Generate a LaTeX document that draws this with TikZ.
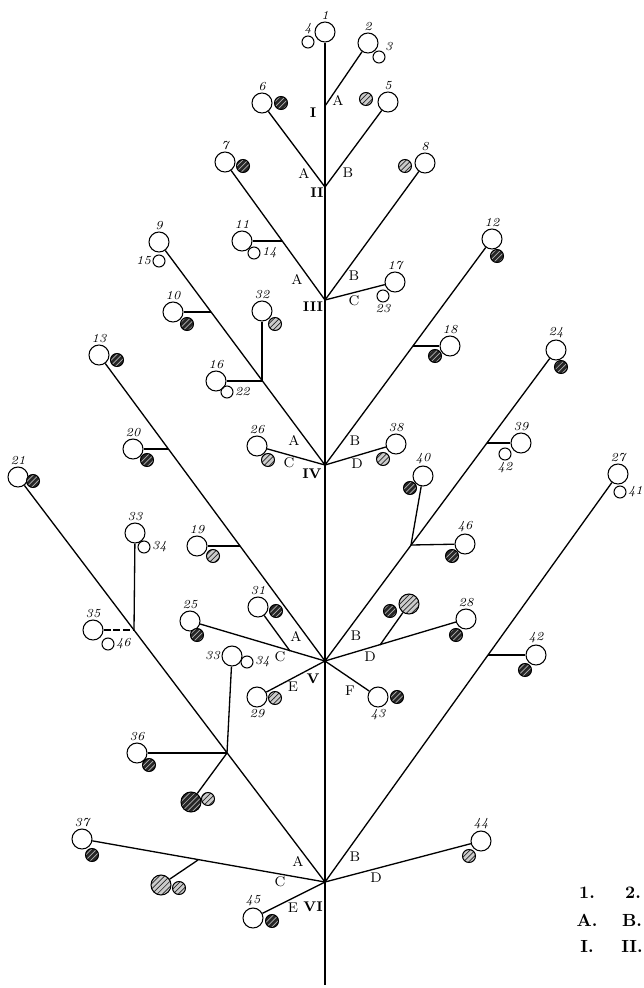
\documentclass[tikz,border=0pt]{standalone}
\usepackage{tikz}
\usetikzlibrary{patterns, positioning}

\begin{document}
\begin{tikzpicture}[
    x=0.02cm, y=-0.02cm,
    every path/.style={line width=0.75pt}
]
    \tikzset{
        circulo/.style={circle, draw, line width=0.6pt, inner sep=0pt, minimum size=0.4cm},
        chico/.style={circulo, minimum size=0.24cm},
        mancha/.style={circulo, minimum size=0.26cm, preaction={fill=black!85}, pattern=north east lines, pattern color=black!30},
        rayada/.style={circulo, minimum size=0.26cm, preaction={fill=black!20}, pattern=north east lines, pattern color=black!85},
        grande/.style={rayada, minimum size=0.4cm},
        granmancha/.style={mancha, minimum size=0.4cm},
        letra/.style={font=\footnotesize, inner sep=0pt},
        romano/.style={font=\footnotesize\bfseries, inner sep=0pt},
        leyenda/.style={font=\bfseries, inner sep=0pt},
        every label/.style={font=\scriptsize\itshape, inner sep=0.5pt}
    }
    \useasboundingbox (0,0) rectangle (644,988);

    % Nodos
    \node[circulo, label=above:1]        (1)   at (325,32)  {};
    \node[chico,   label=above:4]        (4)   at (308,42)  {};
    \node[circulo, label=above:2]        (2)   at (368,43)  {};
    \node[chico,   label=above right:3]  (3)   at (379,57)  {};
    \node[circulo, label=above:6]        (6)   at (262,103) {};
    \node[mancha]                        (6m)  at (281,103) {};
    \node[circulo, label=above:5]        (5)   at (388,102) {};
    \node[rayada]                        (5m)  at (366,99)  {};
    \node[circulo, label=above:7]        (7)   at (225,162) {};
    \node[mancha]                        (7m)  at (243,166) {};
    \node[circulo, label=above:8]        (8)   at (425,163) {};
    \node[rayada]                        (8m)  at (405,166) {};
    \node[circulo, label=above:9]        (9)   at (159,242) {};
    \node[chico,   label=left:15]        (15)  at (159,261) {};
    \node[circulo, label=above:11]       (11)  at (242,241) {};
    \node[chico,   label=right:14]       (14)  at (254,253) {};
    \node[circulo, label=above:17]       (17)  at (395,282) {};
    \node[chico,   label=below:23]       (23)  at (383,296) {};
    \node[circulo, label=above:10]       (10)  at (173,312) {};
    \node[mancha]                        (10m) at (187,324) {};
    \node[circulo, label=above:32]       (32)  at (262,311) {};
    \node[rayada]                        (32m) at (275,324) {};
    \node[circulo, label=above:16]       (16)  at (216,381) {};
    \node[chico,   label=right:22]       (22)  at (227,392) {};
    \node[circulo, label=above:12]       (12)  at (492,239) {};
    \node[mancha]                        (12m) at (497,256) {};
    \node[circulo, label=above:18]       (18)  at (450,346) {};
    \node[mancha]                        (18m) at (435,356) {};
    \node[circulo, label=above:24]       (24)  at (556,350) {};
    \node[mancha]                        (24m) at (561,367) {};
    \node[circulo, label=above:13]       (13)  at (99,355)  {};
    \node[mancha]                        (13m) at (117,360) {};
    \node[circulo, label=above:20]       (20)  at (133,449) {};
    \node[mancha]                        (20m) at (147,460) {};
    \node[circulo, label=above:21]       (21)  at (18,477)  {};
    \node[mancha]                        (21m) at (33,481)  {};
    \node[circulo, label=above:26]       (26)  at (257,446) {};
    \node[rayada]                        (26m) at (268,460) {};
    \node[circulo, label=above:38]       (38)  at (396,444) {};
    \node[rayada]                        (38m) at (383,459) {};
    \node[circulo, label=above:39]       (39)  at (521,443) {};
    \node[chico,   label=below:42]       (42a) at (505,454) {};
    \node[circulo, label=above:27]       (27)  at (618,474) {};
    \node[chico,   label=right:41]       (41)  at (620,492) {};
    \node[circulo, label=above:40]       (40)  at (423,476) {};
    \node[mancha]                        (40m) at (410,488) {};
    \node[circulo, label=above:46]       (46a) at (465,544) {};
    \node[mancha]                        (46m) at (452,556) {};
    \node[circulo, label=above:33]       (33a) at (135,533) {};
    \node[chico,   label=right:34]       (34a) at (144,547) {};
    \node[circulo, label=above:19]       (19)  at (197,546) {};
    \node[rayada]                        (19m) at (213,556) {};
    \node[circulo, label=above:35]       (35)  at (93,630)  {};
    \node[chico,   label=right:46]       (46b) at (108,644) {};
    \node[circulo, label=above:25]       (25)  at (190,621) {};
    \node[mancha]                        (25m) at (197,635) {};
    \node[circulo, label=above:31]       (31)  at (258,607) {};
    \node[mancha]                        (31m) at (276,611) {};
    \node[circulo, label=left:33]        (33b) at (232,656) {};
    \node[chico,   label=right:34]       (34b) at (247,662) {};
    \node[circulo, label=below:29]       (29)  at (257,697) {};
    \node[rayada]                        (29m) at (275,698) {};
    \node[circulo, label=below:43]       (43)  at (378,697) {};
    \node[mancha]                        (43m) at (397,697) {};
    \node[grande]                        (H1)  at (409,604) {};
    \node[mancha]                        (H1m) at (390,611) {};
    \node[circulo, label=above:28]       (28)  at (466,619) {};
    \node[mancha]                        (28m) at (456,635) {};
    \node[circulo, label=above:42]       (42b) at (536,655) {};
    \node[mancha]                        (42m) at (525,670) {};
    \node[circulo, label=above:36]       (36)  at (137,753) {};
    \node[mancha]                        (36m) at (149,765) {};
    \node[granmancha]                    (H2)  at (191,802) {};
    \node[rayada]                        (H2m) at (208,799) {};
    \node[circulo, label=above:37]       (37)  at (82,839)  {};
    \node[mancha]                        (37m) at (92,855)  {};
    \node[grande]                        (H3)  at (161,885) {};
    \node[rayada]                        (H3m) at (179,888) {};
    \node[circulo, label=above:44]       (44)  at (481,841) {};
    \node[rayada]                        (44m) at (469,856) {};
    \node[circulo, label=above:45]       (45)  at (253,918) {};
    \node[mancha]                        (45m) at (272,921) {};

    % Nudos del tallo y de las ramas
    \coordinate (I)   at (325,106);
    \coordinate (II)  at (325,187);
    \coordinate (III) at (325,300);
    \coordinate (IV)  at (325,465);
    \coordinate (V)   at (325,661);
    \coordinate (VI)  at (325,882);
    \coordinate (fin) at (325,985);
    \coordinate (j11) at (282,241);
    \coordinate (j10) at (211,312);
    \coordinate (j16) at (262,381);
    \coordinate (j18) at (413,346);
    \coordinate (j20) at (168,449);
    \coordinate (j19) at (240,546);
    \coordinate (j39) at (487,443);
    \coordinate (j40) at (411,545);
    \coordinate (j33) at (134,630);
    \coordinate (j36) at (227,753);
    \coordinate (j31) at (290,651);
    \coordinate (jH1) at (380,645);
    \coordinate (j42) at (488,655);
    \coordinate (jH3) at (198,860);

    % Tallo
    \draw[line width=1pt] (1) -- (fin);

    % Ramas
    \draw (2) -- (I);
    \draw (6) -- (II);
    \draw (5) -- (II);
    \draw (7) -- (III);
    \draw (11) -- (j11);
    \draw (8) -- (III);
    \draw (17) -- (III);
    \draw (9) -- (IV);
    \draw (10) -- (j10);
    \draw (32) -- (j16);
    \draw (16) -- (j16);
    \draw (12) -- (IV);
    \draw (18) -- (j18);
    \draw (26) -- (IV);
    \draw (38) -- (IV);
    \draw (13) -- (V);
    \draw (20) -- (j20);
    \draw (19) -- (j19);
    \draw (24) -- (V);
    \draw (39) -- (j39);
    \draw (40) -- (j40);
    \draw (46a) -- (j40);
    \draw (25) -- (V);
    \draw (31) -- (j31);
    \draw (28) -- (V);
    \draw (H1) -- (jH1);
    \draw (29) -- (V);
    \draw (43) -- (V);
    \draw (21) -- (VI);
    \draw (33a) -- (j33);
    \draw[dash pattern=on 4pt off 1.5pt] (35) -- (j33);
    \draw (36) -- (j36);
    \draw (33b) -- (j36);
    \draw (j36) -- (H2);
    \draw (27) -- (VI);
    \draw (42b) -- (j42);
    \draw (37) -- (VI);
    \draw (jH3) -- (H3);
    \draw (44) -- (VI);
    \draw (45) -- (VI);

    % Letras
    \node[letra]  (aI)   at (338,100) {A};
    \node[romano] (rI)   at (313,113) {I};
    \node[letra]  (aII)  at (304,173) {A};
    \node[letra]  (bII)  at (348,173) {B};
    \node[romano] (rII)  at (317,193) {II};
    \node[letra]  (aIII) at (297,279) {A};
    \node[letra]  (bIII) at (354,276) {B};
    \node[letra]  (cIII) at (354,301) {C};
    \node[romano] (rIII) at (313,307) {III};
    \node[letra]  (aIV)  at (294,440) {A};
    \node[letra]  (bIV)  at (355,441) {B};
    \node[letra]  (cIV)  at (289,463) {C};
    \node[letra]  (dIV)  at (357,464) {D};
    \node[romano] (rIV)  at (312,474) {IV};
    \node[letra]  (aV)   at (296,636) {A};
    \node[letra]  (bV)   at (356,636) {B};
    \node[letra]  (cV)   at (280,657) {C};
    \node[letra]  (dV)   at (370,657) {D};
    \node[letra]  (eV)   at (293,687) {E};
    \node[letra]  (fV)   at (350,691) {F};
    \node[romano] (rV)   at (313,679) {V};
    \node[letra]  (aVI)  at (298,861) {A};
    \node[letra]  (bVI)  at (355,857) {B};
    \node[letra]  (cVI)  at (280,882) {C};
    \node[letra]  (dVI)  at (376,878) {D};
    \node[letra]  (eVI)  at (293,908) {E};
    \node[romano] (rVI)  at (313,907) {VI};

    % Leyenda
    \node[leyenda] (l1) at (587,893) {1.};
    \node[leyenda] (l2) at (633,893) {2.};
    \node[leyenda] (lA) at (587,920) {A.};
    \node[leyenda] (lB) at (632,920) {B.};
    \node[leyenda] (lI) at (587,946) {I.};
    \node[leyenda] (lII) at (632,946) {II.};
\end{tikzpicture}
\end{document}
